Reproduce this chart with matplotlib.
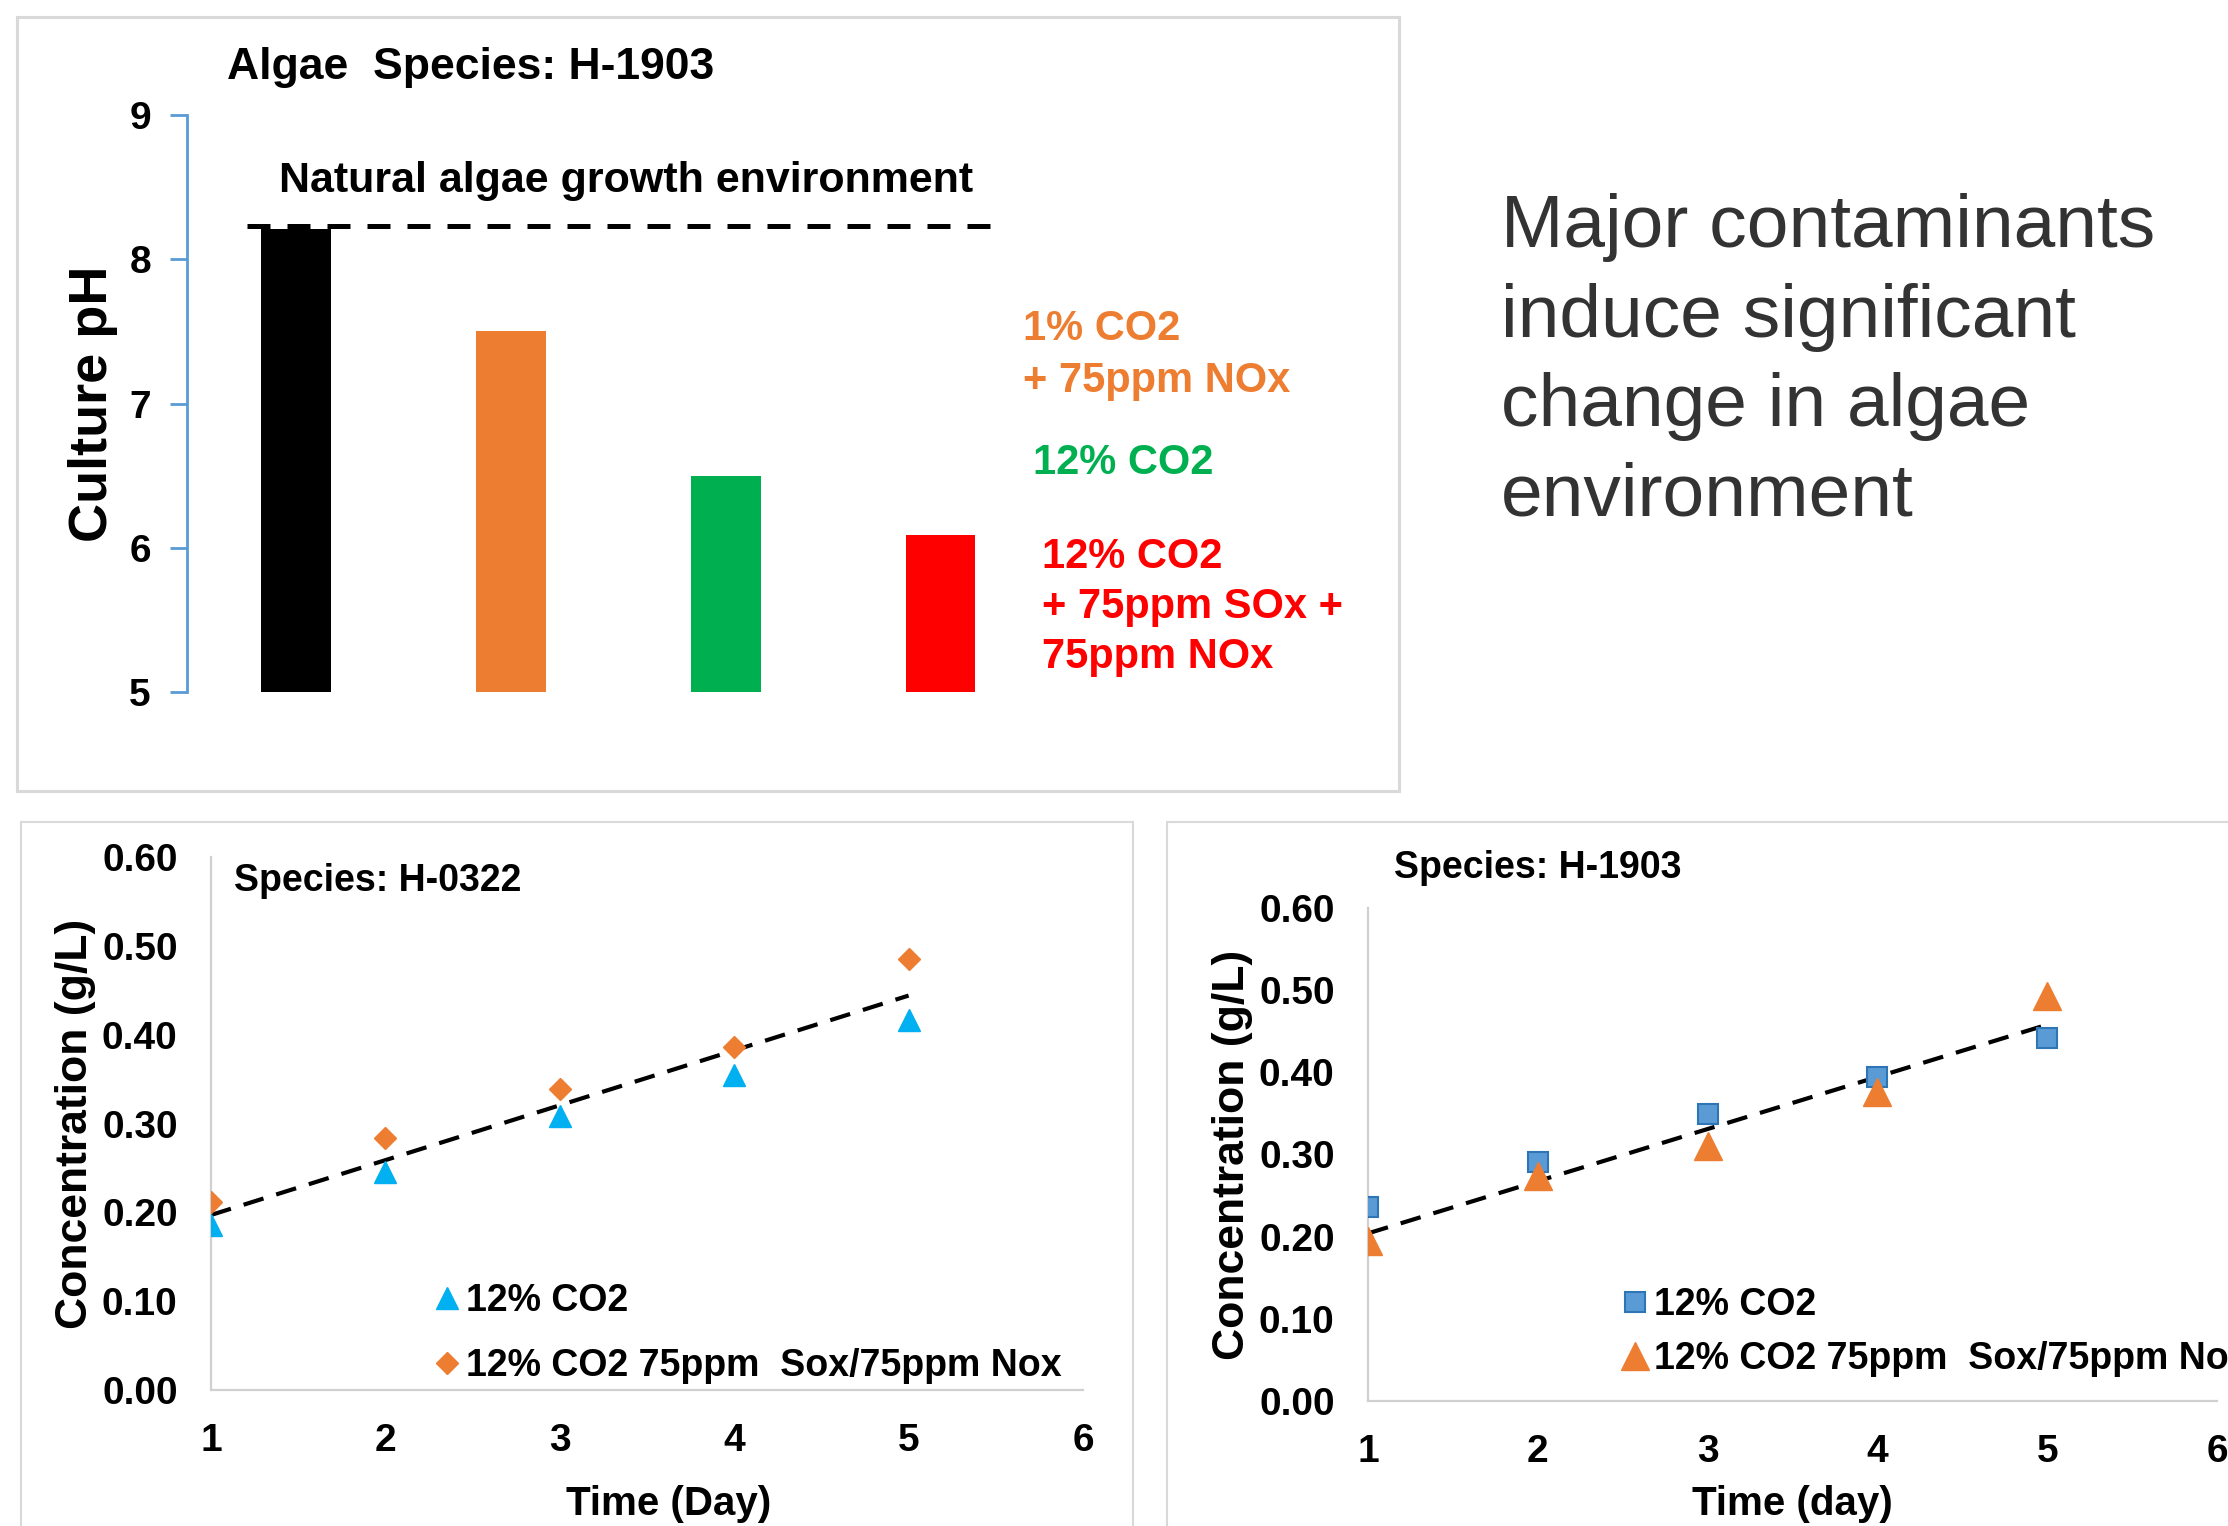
import matplotlib
matplotlib.use("Agg")
import matplotlib.pyplot as plt
from matplotlib.patches import Rectangle

# ---------------- data ----------------
bar_labels = ["Natural", "1% CO2 + 75ppm NOx", "12% CO2", "12% CO2 + 75ppm SOx + 75ppm NOx"]
bar_ph = [8.21, 7.50, 6.50, 6.09]
bar_colors = ["#000000", "#ED7D31", "#00B050", "#FF0000"]
natural_ph = 8.23
ph_ticks = [5, 6, 7, 8, 9]

days = [1, 2, 3, 4, 5]
h0322_co2 = [0.186, 0.245, 0.308, 0.355, 0.416]
h0322_mix = [0.212, 0.284, 0.339, 0.386, 0.485]
h1903_co2 = [0.236, 0.291, 0.349, 0.394, 0.442]
h1903_mix = [0.195, 0.274, 0.310, 0.376, 0.493]
trend_days = [1, 5]
trend_h0322 = [0.197, 0.444]
trend_h1903 = [0.204, 0.458]
conc_ticks = [0.0, 0.1, 0.2, 0.3, 0.4, 0.5, 0.6]
day_ticks = [1, 2, 3, 4, 5, 6]

W, H = 2228, 1526
DPI = 100
fig = plt.figure(figsize=(W / DPI, H / DPI), dpi=DPI)
plt.rcParams['font.family'] = ['Liberation Sans', 'DejaVu Sans']

def fx(x):
    return x / W

def fy(y):
    return 1 - y / H

def axes_px(left, top, right, bottom):
    return fig.add_axes([fx(left), fy(bottom), (right - left) / W, (bottom - top) / H])

# panel frames
for (l, t, r, b, lw) in [(17, 17, 1399, 791, 2.2), (21, 822, 1133, 1540, 1.5), (1167, 822, 2240, 1540, 1.5)]:
    fig.patches.append(Rectangle((fx(l), fy(b)), (r - l) / W, (b - t) / H, transform=fig.transFigure,
                                 fill=False, edgecolor="#D9D9D9", linewidth=lw, zorder=0))

# ---------------- bar chart ----------------
ax = axes_px(187, 115, 1048, 692)
xpos = list(range(len(bar_ph)))
ax.bar(xpos, [v - 5 for v in bar_ph], bottom=5, width=0.325, color=bar_colors)
ax.set_xlim(-0.507, 3.5)
ax.set_ylim(5, 9)
ax.set_yticks(ph_ticks)
ax.set_yticklabels([str(t) for t in ph_ticks], fontsize=28, fontweight="bold")
ax.tick_params(axis="y", length=12, width=2, color="#5B9BD5", pad=14)
ax.set_xticks([])
for s in ["top", "right", "bottom"]:
    ax.spines[s].set_visible(False)
ax.spines["left"].set_color("#5B9BD5")
ax.spines["left"].set_linewidth(2)
ax.hlines(natural_ph, -0.23, 3.24, colors="black", linestyles=(0, (4.6, 3.4)), linewidth=3.6)
ax.set_ylabel("Culture pH", fontsize=39, fontweight="bold", labelpad=0)
ax.yaxis.set_label_coords(-0.080, 0.5)

fig.text(fx(227), fy(67), "Algae  Species: H-1903", fontsize=32, fontweight="bold", va="center", ha="left")
fig.text(fx(626), fy(181), "Natural algae growth environment", fontsize=31, fontweight="bold", va="center", ha="center")
fig.text(fx(1023), fy(355), "1% CO2\n+ 75ppm NOx", fontsize=30, fontweight="bold", color=bar_colors[1],
         va="center", ha="left", linespacing=1.4)
fig.text(fx(1033), fy(463), "12% CO2", fontsize=30, fontweight="bold", color=bar_colors[2], va="center", ha="left")
fig.text(fx(1042), fy(607), "12% CO2\n+ 75ppm SOx +\n75ppm NOx", fontsize=30, fontweight="bold",
         color=bar_colors[3], va="center", ha="left", linespacing=1.33)

fig.text(fx(1501), fy(362), "Major contaminants\ninduce significant\nchange in algae\nenvironment",
         fontsize=54, color="#333333", va="center", ha="left", linespacing=1.38)

# ---------------- scatter charts ----------------
def scatter_panel(rect, co2, mix, trend, m1, m2, title, title_xy, xlabel, xlabel_coords, ylabel_x, leg_anchor, leg_spacing):
    a = axes_px(*rect)
    a.plot(days, co2, linestyle="none", **m1, label="12% CO2")
    a.plot(days, mix, linestyle="none", **m2, label="12% CO2 75ppm  Sox/75ppm Nox")
    a.plot(trend_days, trend, color="black", linestyle=(0, (5.0, 3.2)), linewidth=3.0, zorder=1)
    a.set_xlim(1, 6)
    a.set_ylim(0, 0.6)
    a.set_xticks(day_ticks)
    a.set_xticklabels([str(d) for d in day_ticks], fontsize=28, fontweight="bold")
    a.set_yticks(conc_ticks)
    a.set_yticklabels([f"{t:.2f}" for t in conc_ticks], fontsize=28, fontweight="bold")
    a.tick_params(length=0, pad=24)
    for s in ["top", "right"]:
        a.spines[s].set_visible(False)
    for s in ["left", "bottom"]:
        a.spines[s].set_color("#D0D0D0")
        a.spines[s].set_linewidth(1.6)
    a.set_xlabel(xlabel, fontsize=29, fontweight="bold")
    a.xaxis.set_label_coords(*xlabel_coords)
    a.set_ylabel("Concentration (g/L)", fontsize=32, fontweight="bold")
    a.yaxis.set_label_coords(ylabel_x, 0.5)
    a.legend(loc="upper left", bbox_to_anchor=leg_anchor, frameon=False,
             prop={"weight": "bold", "size": 27}, handlelength=0.6, handletextpad=0.2,
             labelspacing=leg_spacing, borderaxespad=0)
    fig.text(fx(title_xy[0]), fy(title_xy[1]), title, fontsize=27, fontweight="bold", va="center", ha="left")
    for sp in a.spines.values():
        sp.set_zorder(0)
    return a

scatter_panel((211, 857, 1083, 1390), h0322_co2, h0322_mix, trend_h0322,
              dict(marker="^", markersize=16, color="#00B0F0"),
              dict(marker="D", markersize=11.5, color="#ED7D31"),
              "Species: H-0322", (234, 881), "Time (Day)", (0.525, -0.179), -0.132, (0.241, 0.229), 0.78)

scatter_panel((1368, 908, 2217, 1401), h1903_co2, h1903_mix, trend_h1903,
              dict(marker="s", markersize=15, markerfacecolor="#5B9BD5", markeredgecolor="#2E75B6", markeredgewidth=1.5),
              dict(marker="^", markersize=20, color="#ED7D31"),
              "Species: H-1903", (1394, 868), "Time (day)", (0.5, -0.170), -0.135, (0.284, 0.261), 0.47)

fig.savefig("out.png", dpi=DPI)
